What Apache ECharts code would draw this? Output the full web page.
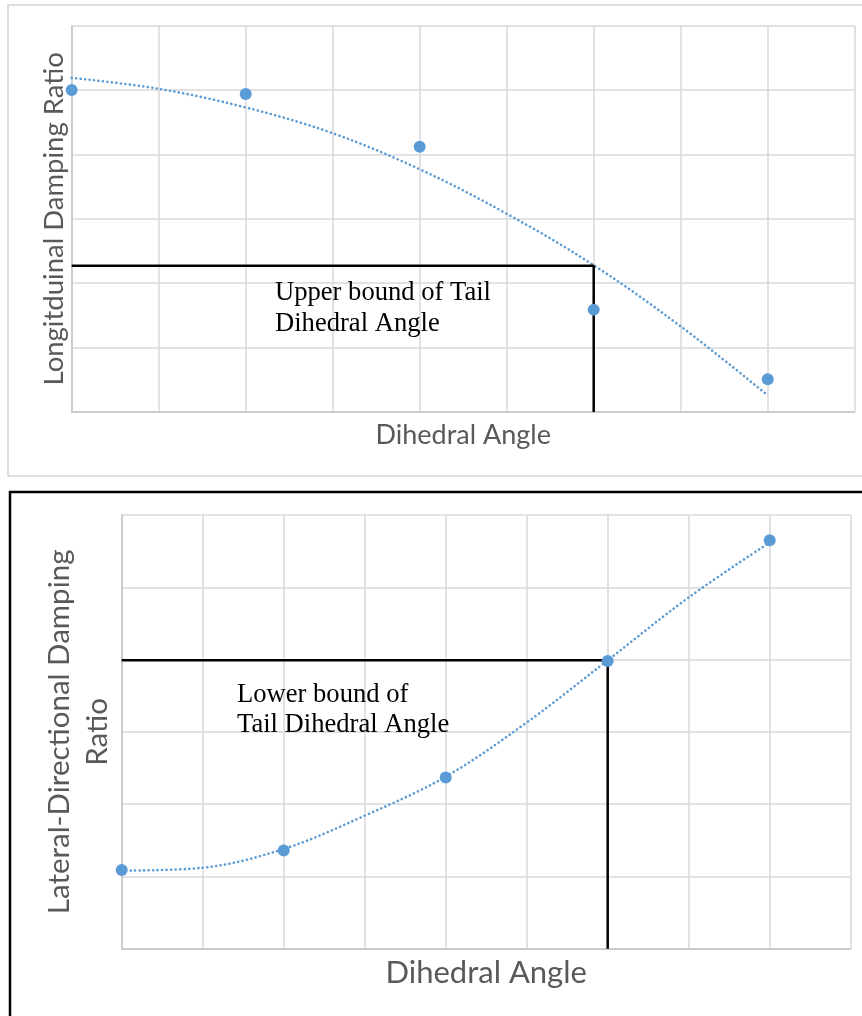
<!DOCTYPE html>
<html>
<head>
<meta charset="utf-8">
<script src="https://cdn.jsdelivr.net/npm/echarts@6/dist/echarts.min.js"></script>
<style>
  html, body { margin: 0; padding: 0; background: #fff; }
  #chart { width: 862px; height: 1016px; }
</style>
</head>
<body>
<div id="chart"></div>
<script>
// ---------- data ----------
const angleCategories = [0, 2, 4, 6, 8];            // dihedral angle positions (grid units)
const trendAngles = [0, 1, 2, 3, 4, 5, 6, 7, 8];

// Top chart: longitudinal damping ratio
const longDamping = [5.0, 4.94, 4.12, 1.59, 0.51];
const longTrend = [5.19, 5.02, 4.73, 4.33, 3.77, 3.08, 2.28, 1.33, 0.26];
const upperBoundAngle = 6;
const upperBoundDamping = 2.27;

// Bottom chart: lateral-directional damping ratio
const latDamping = [1.09, 1.36, 2.37, 3.98, 5.65];
const latTrend = [1.08, 1.12, 1.38, 1.84, 2.38, 3.13, 3.99, 4.86, 5.62];
const lowerBoundAngle = 6;
const lowerBoundDamping = 3.99;

const xAxisMax = 9, yAxisMax = 6;

const topAnnotation = "Upper bound of Tail\nDihedral Angle";
const bottomAnnotation = "Lower bound of\nTail Dihedral Angle";
const xTitle = "Dihedral Angle";
const topYTitle = "Longitduinal Damping Ratio";
const bottomYTitle = "Lateral-Directional Damping\nRatio";

// ---------- build ----------
const BLUE = '#5b9bd5';
const GRIDC = '#d9d9d9';
const AXISC = '#c4c4c4';
const TITLEC = '#595959';
const sans = 'Lato, "Open Sans", sans-serif';
const serif = '"Liberation Serif", "Times New Roman", serif';

function pairs(xs, ys) { return xs.map((x, i) => [x, ys[i]]); }

function xAxisCfg(gridIndex, fontSize, gap) {
  return {
    type: 'value', gridIndex, min: 0, max: xAxisMax, interval: 1,
    name: xTitle, nameLocation: 'middle', nameGap: gap,
    nameTextStyle: { color: TITLEC, fontFamily: sans, fontSize, lineHeight: fontSize, verticalAlign: 'top' },
    axisLine: { show: true, lineStyle: { color: AXISC, width: 1.5 } },
    axisTick: { show: false }, axisLabel: { show: false },
    splitLine: { show: true, lineStyle: { color: GRIDC, width: 1.5 } }
  };
}
function yAxisCfg(gridIndex, name, fontSize, lineHeight, gap) {
  return {
    type: 'value', gridIndex, min: 0, max: yAxisMax, interval: 1,
    name, nameLocation: 'middle', nameGap: gap,
    nameTextStyle: { color: TITLEC, fontFamily: sans, fontSize, lineHeight, align: 'center' },
    axisLine: { show: true, lineStyle: { color: AXISC, width: 1.5 } },
    axisTick: { show: false }, axisLabel: { show: false },
    splitLine: { show: true, lineStyle: { color: GRIDC, width: 1.5 } }
  };
}

function trendSeries(idx, ys) {
  return {
    type: 'line', xAxisIndex: idx, yAxisIndex: idx, data: pairs(trendAngles, ys),
    smooth: 0.35, showSymbol: false, silent: true, z: 2,
    lineStyle: { color: BLUE, width: 2.6, type: [0.1, 4.4], cap: 'round' }
  };
}
function boundSeries(idx, ax, dy) {
  return {
    type: 'line', xAxisIndex: idx, yAxisIndex: idx,
    data: [[0, dy], [ax, dy], [ax, 0]],
    showSymbol: false, silent: true, z: 3,
    lineStyle: { color: '#000', width: 2.5 }
  };
}
function pointSeries(idx, ys) {
  return {
    type: 'scatter', xAxisIndex: idx, yAxisIndex: idx, data: pairs(angleCategories, ys),
    symbol: 'circle', symbolSize: 12, z: 5,
    itemStyle: { color: BLUE, opacity: 1 }
  };
}

const chart = echarts.init(document.getElementById('chart'), null, { renderer: 'canvas' });
chart.setOption({
  backgroundColor: '#fff',
  animation: false,
  grid: [
    { left: 71.7, top: 25.7, width: 783, height: 386.3, containLabel: false },
    { left: 121.7, top: 515, width: 729, height: 433.7, containLabel: false }
  ],
  xAxis: [xAxisCfg(0, 27, 10), xAxisCfg(1, 31, 9)],
  yAxis: [yAxisCfg(0, topYTitle, 27.5, 28, 4), yAxisCfg(1, bottomYTitle, 29.5, 38, 5)],
  series: [
    trendSeries(0, longTrend), boundSeries(0, upperBoundAngle, upperBoundDamping), pointSeries(0, longDamping),
    trendSeries(1, latTrend), boundSeries(1, lowerBoundAngle, lowerBoundDamping), pointSeries(1, latDamping)
  ],
  graphic: [
    { type: 'rect', shape: { x: 8, y: 5, width: 870, height: 471 }, style: { fill: null, stroke: '#d4d4d4', lineWidth: 1.5 }, silent: true, z: 0 },
    { type: 'rect', shape: { x: 10, y: 492, width: 870, height: 540 }, style: { fill: null, stroke: '#000', lineWidth: 2.5 }, silent: true, z: 0 },
    { type: 'text', left: 275, top: 278, style: { text: topAnnotation, font: '26.6px ' + serif, fill: '#000', lineHeight: 31 }, z: 10 },
    { type: 'text', left: 237, top: 680, style: { text: bottomAnnotation, font: '26.6px ' + serif, fill: '#000', lineHeight: 30 }, z: 10 }
  ]
});
</script>
</body>
</html>
